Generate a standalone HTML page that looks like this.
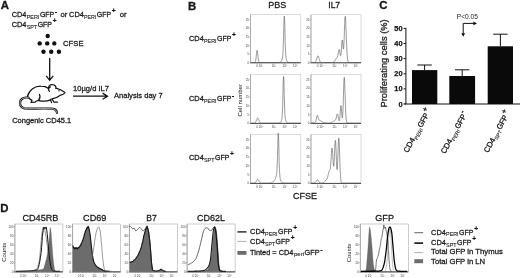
<!DOCTYPE html>
<html><head><meta charset="utf-8"><style>
html,body{margin:0;padding:0;background:#fff;}
svg{display:block;filter:grayscale(1)}
text{font-family:"Liberation Sans",sans-serif;fill:#1a1a1a}
.b{font-weight:bold;font-size:11.4px;stroke:#111;stroke-width:0.3px}
.t{font-size:7.7px}
.s{font-size:5px}
.h{font-size:9px}
.h2{font-size:9.1px}
.t,.h,.h2{stroke:#1a1a1a;stroke-width:0.28px}
.s{stroke:#1a1a1a;stroke-width:0.1px}
.p{font-weight:bold;stroke:#111;stroke-width:0.15px;fill:#111}
.tk{font-size:3px;fill:#444}
</style></head><body>
<svg width="520" height="278" viewBox="0 0 520 278">
<rect width="520" height="278" fill="#fff"/>

<text class="b" x="0.8" y="9.3">A</text>
<g ><text class="t" x="11.70" y="17.20" textLength="14.80" lengthAdjust="spacingAndGlyphs">CD4</text><text class="s" x="26.70" y="19.00" textLength="12.70" lengthAdjust="spacingAndGlyphs">PERI</text><text class="t" x="39.90" y="17.20" textLength="14.30" lengthAdjust="spacingAndGlyphs">GFP</text><text class="p" x="54.70" y="14.20" style="font-size:7.50px">-</text></g>
<text class="t" x="60.5" y="17.2">or</text>
<g ><text class="t" x="69.10" y="17.20" textLength="14.80" lengthAdjust="spacingAndGlyphs">CD4</text><text class="s" x="84.10" y="19.00" textLength="12.20" lengthAdjust="spacingAndGlyphs">PERI</text><text class="t" x="96.80" y="17.20" textLength="14.30" lengthAdjust="spacingAndGlyphs">GFP</text><text class="p" x="111.85" y="13.45" style="font-size:6.60px">+</text></g>
<text class="t" x="119.7" y="17.2">or</text>
<g ><text class="t" x="11.70" y="27.10" textLength="14.80" lengthAdjust="spacingAndGlyphs">CD4</text><text class="s" x="26.70" y="28.90" textLength="10.50" lengthAdjust="spacingAndGlyphs">SPT</text><text class="t" x="37.70" y="27.10" textLength="14.30" lengthAdjust="spacingAndGlyphs">GFP</text><text class="p" x="52.75" y="23.35" style="font-size:6.60px">+</text></g>
<g fill="#111">
<circle cx="47.7" cy="36.0" r="2.2"/>
<circle cx="39.7" cy="43.4" r="2.2"/>
<circle cx="47.2" cy="43.4" r="2.2"/>
<circle cx="54.3" cy="43.4" r="2.2"/>
<circle cx="43.5" cy="51.8" r="2.2"/>
<circle cx="51.2" cy="51.8" r="2.2"/>
<circle cx="58.9" cy="51.8" r="2.2"/>
</g>
<text class="t" x="63" y="46.2">CFSE</text>
<g stroke="#111" stroke-width="1.3" fill="none">
<path d="M49.7 58V80M46.2 75.8L49.7 80.3L53.2 75.8"/>
<path d="M73 96.2H107M102.6 93.1L107.5 96.2L102.6 99.3"/>
</g>
<text class="t" x="73" y="90.9" textLength="36" lengthAdjust="spacingAndGlyphs">10µg/d IL7</text>
<text class="t" x="114" y="98.3" textLength="48.7" lengthAdjust="spacingAndGlyphs">Analysis day 7</text>
<text class="t" x="12.2" y="122.6" textLength="59" lengthAdjust="spacingAndGlyphs">Congenic CD45.1</text>
<g transform="translate(0 0.9)">
<g stroke="#111" stroke-width="1.2" fill="none" stroke-linecap="round" stroke-linejoin="round">
<path d="M27.5 95.5C29 89 35 85 41 85.3C44 85.3 46.5 86 48.5 87.5"/>
<path d="M48.5 88C48 85 50 83.5 52.5 83.8C55 84 56 86 56 87.5"/>
<path d="M49.5 90.5C48 89 48.3 86.5 50.5 86"/>
<path d="M56 87.2C59.500 88 63 90 65 91.500C64.500 93 62 94 60 94.500C58 96 55 97.500 52 98"/>
<path d="M52 98L54 101.300H57.500"/>
<path d="M50.500 98.500L51.500 101.700"/>
<path d="M27.500 95.500C28.500 97.500 30 98.500 32 99.500L31 101.500L35 101.300C36 100 37.500 99.500 39 99.700C43 100.500 47 100.500 50.500 99"/>
<path d="M39.500 93.500C40.500 95.500 40 97.500 38.500 99.500"/>
</g>
<g stroke="#111" stroke-width="2.2" fill="none" stroke-linecap="round"><path d="M28.500 96.800C24 96 20 98 20 102C20 106 23 107.800 28 107.800C36 107.800 45 107.300 52 107.800C55 108 56.800 109.500 57 112"/></g>
<g stroke="#fff" stroke-width="0.6" fill="none" stroke-linecap="round"><path d="M28.500 96.800C24 96 20 98 20 102C20 106 23 107.800 28 107.800C36 107.800 45 107.300 52 107.800C55 108 56.800 109.500 57 112"/></g>
<circle cx="59" cy="89.800" r="0.700" fill="#111"/>
</g>
<text class="b" x="188.1" y="9.5">B</text>
<text class="h" x="268.3" y="7.7" textLength="18" lengthAdjust="spacingAndGlyphs">PBS</text>
<text class="h" x="328.3" y="7.7" textLength="11.8" lengthAdjust="spacingAndGlyphs">IL7</text>
<g ><text class="t" x="189.00" y="41.00" textLength="14.80" lengthAdjust="spacingAndGlyphs">CD4</text><text class="s" x="204.00" y="42.80" textLength="12.50" lengthAdjust="spacingAndGlyphs">PERI</text><text class="t" x="217.00" y="41.00" textLength="14.30" lengthAdjust="spacingAndGlyphs">GFP</text><text class="p" x="232.05" y="37.25" style="font-size:6.60px">+</text></g>
<g ><text class="t" x="189.00" y="100.80" textLength="14.80" lengthAdjust="spacingAndGlyphs">CD4</text><text class="s" x="204.00" y="102.60" textLength="12.50" lengthAdjust="spacingAndGlyphs">PERI</text><text class="t" x="217.00" y="100.80" textLength="14.30" lengthAdjust="spacingAndGlyphs">GFP</text><text class="p" x="231.80" y="97.80" style="font-size:7.50px">-</text></g>
<g ><text class="t" x="189.00" y="160.00" textLength="14.80" lengthAdjust="spacingAndGlyphs">CD4</text><text class="s" x="204.00" y="161.80" textLength="10.50" lengthAdjust="spacingAndGlyphs">SPT</text><text class="t" x="215.00" y="160.00" textLength="14.30" lengthAdjust="spacingAndGlyphs">GFP</text><text class="p" x="230.05" y="156.25" style="font-size:6.60px">+</text></g>
<text transform="translate(241.9 116.600) rotate(-90)" style="font-size:6.100px" textLength="32.500" lengthAdjust="spacingAndGlyphs">Cell number</text>
<text class="h" x="293" y="199.200" textLength="24" lengthAdjust="spacingAndGlyphs">CFSE</text>
<rect x="250.5" y="14.7" width="50.3" height="48.1" fill="none" stroke="#c4c4c4" stroke-width="0.600"/><path d="M250.0 62.8H300.8" stroke="#444" stroke-width="1"/><path d="M250.5 14.7V62.8" stroke="#999" stroke-width="0.700"/><path d="M250.5 19.7h-1.200M250.5 28.3h-1.200M250.5 36.9h-1.200M250.5 45.6h-1.200M250.5 54.2h-1.200M250.5 62.8h-1.200M257.0 62.8v1.200M260.8 62.8v1.200M273.8 62.8v1.200M284.8 62.8v1.200M295.3 62.8v1.200" stroke="#888" stroke-width="0.500"/>
<text class="tk" x="257.0" y="67.4" text-anchor="middle">0</text><text class="tk" x="260.8" y="67.4" text-anchor="middle">10²</text><text class="tk" x="273.8" y="67.4" text-anchor="middle">10³</text><text class="tk" x="284.8" y="67.4" text-anchor="middle">10⁴</text><text class="tk" x="295.3" y="67.4" text-anchor="middle">10⁵</text>
<text class="tk" x="249.0" y="20.7" text-anchor="end">25</text><text class="tk" x="249.0" y="29.3" text-anchor="end">20</text><text class="tk" x="249.0" y="37.9" text-anchor="end">15</text><text class="tk" x="249.0" y="46.6" text-anchor="end">10</text><text class="tk" x="249.0" y="55.2" text-anchor="end">5</text><text class="tk" x="249.0" y="63.8" text-anchor="end">0</text>
<rect x="311.0" y="14.7" width="50.0" height="48.1" fill="none" stroke="#c4c4c4" stroke-width="0.600"/><path d="M310.5 62.8H361.0" stroke="#444" stroke-width="1"/><path d="M311.0 14.7V62.8" stroke="#999" stroke-width="0.700"/><path d="M311.0 19.7h-1.200M311.0 28.3h-1.200M311.0 36.9h-1.200M311.0 45.6h-1.200M311.0 54.2h-1.200M311.0 62.8h-1.200M317.5 62.8v1.200M321.3 62.8v1.200M334.3 62.8v1.200M345.3 62.8v1.200M355.8 62.8v1.200" stroke="#888" stroke-width="0.500"/>
<text class="tk" x="317.5" y="67.4" text-anchor="middle">0</text><text class="tk" x="321.3" y="67.4" text-anchor="middle">10²</text><text class="tk" x="334.3" y="67.4" text-anchor="middle">10³</text><text class="tk" x="345.3" y="67.4" text-anchor="middle">10⁴</text><text class="tk" x="355.8" y="67.4" text-anchor="middle">10⁵</text>
<text class="tk" x="309.5" y="20.7" text-anchor="end">25</text><text class="tk" x="309.5" y="29.3" text-anchor="end">20</text><text class="tk" x="309.5" y="37.9" text-anchor="end">15</text><text class="tk" x="309.5" y="46.6" text-anchor="end">10</text><text class="tk" x="309.5" y="55.2" text-anchor="end">5</text><text class="tk" x="309.5" y="63.8" text-anchor="end">0</text>
<rect x="250.5" y="74.6" width="50.3" height="48.8" fill="none" stroke="#c4c4c4" stroke-width="0.600"/><path d="M250.0 123.4H300.8" stroke="#444" stroke-width="1"/><path d="M250.5 74.6V123.4" stroke="#999" stroke-width="0.700"/><path d="M250.5 79.6h-1.200M250.5 88.4h-1.200M250.5 97.1h-1.200M250.5 105.9h-1.200M250.5 114.6h-1.200M250.5 123.4h-1.200M257.0 123.4v1.200M260.8 123.4v1.200M273.8 123.4v1.200M284.8 123.4v1.200M295.3 123.4v1.200" stroke="#888" stroke-width="0.500"/>
<text class="tk" x="257.0" y="128.0" text-anchor="middle">0</text><text class="tk" x="260.8" y="128.0" text-anchor="middle">10²</text><text class="tk" x="273.8" y="128.0" text-anchor="middle">10³</text><text class="tk" x="284.8" y="128.0" text-anchor="middle">10⁴</text><text class="tk" x="295.3" y="128.0" text-anchor="middle">10⁵</text>
<text class="tk" x="249.0" y="80.6" text-anchor="end">25</text><text class="tk" x="249.0" y="89.4" text-anchor="end">20</text><text class="tk" x="249.0" y="98.1" text-anchor="end">15</text><text class="tk" x="249.0" y="106.9" text-anchor="end">10</text><text class="tk" x="249.0" y="115.6" text-anchor="end">5</text><text class="tk" x="249.0" y="124.4" text-anchor="end">0</text>
<rect x="311.0" y="74.6" width="50.0" height="48.8" fill="none" stroke="#c4c4c4" stroke-width="0.600"/><path d="M310.5 123.4H361.0" stroke="#444" stroke-width="1"/><path d="M311.0 74.6V123.4" stroke="#999" stroke-width="0.700"/><path d="M311.0 79.6h-1.200M311.0 88.4h-1.200M311.0 97.1h-1.200M311.0 105.9h-1.200M311.0 114.6h-1.200M311.0 123.4h-1.200M317.5 123.4v1.200M321.3 123.4v1.200M334.3 123.4v1.200M345.3 123.4v1.200M355.8 123.4v1.200" stroke="#888" stroke-width="0.500"/>
<text class="tk" x="317.5" y="128.0" text-anchor="middle">0</text><text class="tk" x="321.3" y="128.0" text-anchor="middle">10²</text><text class="tk" x="334.3" y="128.0" text-anchor="middle">10³</text><text class="tk" x="345.3" y="128.0" text-anchor="middle">10⁴</text><text class="tk" x="355.8" y="128.0" text-anchor="middle">10⁵</text>
<text class="tk" x="309.5" y="80.6" text-anchor="end">25</text><text class="tk" x="309.5" y="89.4" text-anchor="end">20</text><text class="tk" x="309.5" y="98.1" text-anchor="end">15</text><text class="tk" x="309.5" y="106.9" text-anchor="end">10</text><text class="tk" x="309.5" y="115.6" text-anchor="end">5</text><text class="tk" x="309.5" y="124.4" text-anchor="end">0</text>
<rect x="250.5" y="134.6" width="50.3" height="48.8" fill="none" stroke="#c4c4c4" stroke-width="0.600"/><path d="M250.0 183.4H300.8" stroke="#444" stroke-width="1"/><path d="M250.5 134.6V183.4" stroke="#999" stroke-width="0.700"/><path d="M250.5 139.6h-1.200M250.5 148.4h-1.200M250.5 157.1h-1.200M250.5 165.9h-1.200M250.5 174.6h-1.200M250.5 183.4h-1.200M257.0 183.4v1.200M260.8 183.4v1.200M273.8 183.4v1.200M284.8 183.4v1.200M295.3 183.4v1.200" stroke="#888" stroke-width="0.500"/>
<text class="tk" x="257.0" y="188.0" text-anchor="middle">0</text><text class="tk" x="260.8" y="188.0" text-anchor="middle">10²</text><text class="tk" x="273.8" y="188.0" text-anchor="middle">10³</text><text class="tk" x="284.8" y="188.0" text-anchor="middle">10⁴</text><text class="tk" x="295.3" y="188.0" text-anchor="middle">10⁵</text>
<text class="tk" x="249.0" y="140.6" text-anchor="end">25</text><text class="tk" x="249.0" y="149.4" text-anchor="end">20</text><text class="tk" x="249.0" y="158.1" text-anchor="end">15</text><text class="tk" x="249.0" y="166.9" text-anchor="end">10</text><text class="tk" x="249.0" y="175.6" text-anchor="end">5</text><text class="tk" x="249.0" y="184.4" text-anchor="end">0</text>
<rect x="311.0" y="134.6" width="50.0" height="48.8" fill="none" stroke="#c4c4c4" stroke-width="0.600"/><path d="M310.5 183.4H361.0" stroke="#444" stroke-width="1"/><path d="M311.0 134.6V183.4" stroke="#999" stroke-width="0.700"/><path d="M311.0 139.6h-1.200M311.0 148.4h-1.200M311.0 157.1h-1.200M311.0 165.9h-1.200M311.0 174.6h-1.200M311.0 183.4h-1.200M317.5 183.4v1.200M321.3 183.4v1.200M334.3 183.4v1.200M345.3 183.4v1.200M355.8 183.4v1.200" stroke="#888" stroke-width="0.500"/>
<text class="tk" x="317.5" y="188.0" text-anchor="middle">0</text><text class="tk" x="321.3" y="188.0" text-anchor="middle">10²</text><text class="tk" x="334.3" y="188.0" text-anchor="middle">10³</text><text class="tk" x="345.3" y="188.0" text-anchor="middle">10⁴</text><text class="tk" x="355.8" y="188.0" text-anchor="middle">10⁵</text>
<text class="tk" x="309.5" y="140.6" text-anchor="end">25</text><text class="tk" x="309.5" y="149.4" text-anchor="end">20</text><text class="tk" x="309.5" y="158.1" text-anchor="end">15</text><text class="tk" x="309.5" y="166.9" text-anchor="end">10</text><text class="tk" x="309.5" y="175.6" text-anchor="end">5</text><text class="tk" x="309.5" y="184.4" text-anchor="end">0</text>
<path d="M251.0 62.5L251.2 62.5L251.5 62.5L251.8 62.5L252.0 62.5L252.2 62.5L252.5 62.5L252.8 62.5L253.0 62.5L253.2 62.5L253.5 62.5L253.8 62.5L254.0 62.5L254.2 62.5L254.5 62.5L254.8 62.4L255.0 62.3L255.2 61.9L255.5 61.2L255.8 60.1L256.0 58.3L256.2 56.1L256.5 53.6L256.8 51.6L257.0 50.4L257.2 50.5L257.5 51.9L257.8 54.1L258.0 56.6L258.2 58.7L258.5 60.4L258.8 61.4L259.0 62.0L259.2 62.3L259.5 62.4L259.8 62.5L260.0 62.5L260.2 62.5L260.5 62.5L260.8 62.5L261.0 62.5L261.2 62.5L261.5 62.5L261.8 62.5L262.0 62.5L262.2 62.5L262.5 62.5L262.8 62.5L263.0 62.5L263.2 62.5L263.5 62.5L263.8 62.5L264.0 62.5L264.2 62.5L264.5 62.5L264.8 62.5L265.0 62.5L265.2 62.5L265.5 62.5L265.8 62.5L266.0 62.5L266.2 62.5L266.5 62.5L266.8 62.5L267.0 62.5L267.2 62.5L267.5 62.5L267.8 62.5L268.0 62.5L268.2 62.5L268.5 62.5L268.8 62.5L269.0 62.5L269.2 62.5L269.5 62.5L269.8 62.5L270.0 62.5L270.2 62.5L270.5 62.5L270.8 62.5L271.0 62.5L271.2 62.5L271.5 62.5L271.8 62.5L272.0 62.5L272.2 62.5L272.5 62.5L272.8 62.5L273.0 62.5L273.2 62.5L273.5 62.5L273.8 62.5L274.0 62.5L274.2 62.5L274.5 62.5L274.8 62.5L275.0 62.5L275.2 62.5L275.5 62.5L275.8 62.5L276.0 62.5L276.2 62.5L276.5 62.5L276.8 62.5L277.0 62.5L277.2 62.5L277.5 62.5L277.8 62.5L278.0 62.5L278.2 62.5L278.5 62.5L278.8 62.5L279.0 62.5L279.2 62.5L279.5 62.4L279.8 62.4L280.0 62.4L280.2 62.3L280.5 62.2L280.8 62.0L281.0 61.7L281.2 61.4L281.5 61.0L281.8 60.5L282.0 59.8L282.2 59.0L282.5 57.8L282.8 55.8L283.0 52.4L283.2 46.8L283.5 38.6L283.8 28.9L284.0 20.4L284.2 16.1L284.5 18.0L284.8 25.2L285.0 34.8L285.2 43.8L285.5 50.5L285.8 54.7L286.0 57.1L286.2 58.6L286.5 59.5L286.8 60.2L287.0 60.8L287.2 61.3L287.5 61.6L287.8 61.9L288.0 62.1L288.2 62.2L288.5 62.3L288.8 62.4L289.0 62.4L289.2 62.5L289.5 62.5L289.8 62.5L290.0 62.5L290.2 62.5L290.5 62.5L290.8 62.5L291.0 62.5L291.2 62.5L291.5 62.5L291.8 62.5L292.0 62.5L292.2 62.5L292.5 62.5L292.8 62.5L293.0 62.5L293.2 62.5L293.5 62.5L293.8 62.5L294.0 62.5L294.2 62.5L294.5 62.5L294.8 62.5L295.0 62.5L295.2 62.5L295.5 62.5L295.8 62.5L296.0 62.5L296.2 62.5L296.5 62.5L296.8 62.5L297.0 62.5L297.2 62.5L297.5 62.5L297.8 62.5L298.0 62.5L298.2 62.5L298.5 62.5L298.8 62.5L299.0 62.5L299.2 62.5L299.5 62.5L299.8 62.5L300.0 62.5L300.2 62.5" fill="none" stroke="#555" stroke-width="0.6" stroke-linejoin="round"/>
<path d="M311.7 62.5L311.9 62.5L312.2 62.5L312.4 62.5L312.7 62.5L312.9 62.5L313.2 62.5L313.4 62.5L313.7 62.5L313.9 62.5L314.2 62.5L314.4 62.5L314.7 62.4L314.9 62.4L315.2 62.2L315.4 62.0L315.7 61.7L315.9 61.3L316.2 60.7L316.4 60.0L316.7 59.2L316.9 58.3L317.2 57.4L317.4 56.6L317.7 56.0L317.9 55.8L318.2 55.9L318.4 56.3L318.7 57.0L318.9 57.9L319.2 58.8L319.4 59.7L319.7 60.5L319.9 61.1L320.2 61.6L320.4 61.9L320.7 62.2L320.9 62.3L321.2 62.4L321.4 62.5L321.7 62.5L321.9 62.5L322.2 62.5L322.4 62.5L322.7 62.5L322.9 62.5L323.2 62.5L323.4 62.5L323.7 62.5L323.9 62.5L324.2 62.5L324.4 62.5L324.7 62.5L324.9 62.5L325.2 62.5L325.4 62.5L325.7 62.5L325.9 62.5L326.2 62.5L326.4 62.5L326.7 62.5L326.9 62.5L327.2 62.5L327.4 62.5L327.7 62.5L327.9 62.5L328.2 62.5L328.4 62.5L328.7 62.5L328.9 62.5L329.2 62.5L329.4 62.5L329.7 62.5L329.9 62.5L330.2 62.5L330.4 62.5L330.7 62.5L330.9 62.5L331.2 62.5L331.4 62.5L331.7 62.5L331.9 62.5L332.2 62.5L332.4 62.5L332.7 62.4L332.9 62.4L333.2 62.3L333.4 62.2L333.7 62.1L333.9 61.9L334.2 61.7L334.4 61.4L334.7 61.1L334.9 60.7L335.2 60.3L335.4 59.9L335.7 59.4L335.9 59.0L336.2 58.6L336.4 58.2L336.7 57.9L336.9 57.6L337.2 57.3L337.4 56.8L337.7 56.1L337.9 55.1L338.2 53.8L338.4 52.3L338.7 50.9L338.9 49.9L339.2 49.5L339.4 49.9L339.7 51.1L339.9 52.7L340.2 54.3L340.4 55.5L340.7 55.8L340.9 54.8L341.2 52.4L341.4 49.0L341.7 45.1L341.9 41.9L342.2 40.0L342.4 40.1L342.7 42.0L342.9 44.9L343.2 47.7L343.4 49.0L343.7 47.9L343.9 44.2L344.2 38.1L344.4 30.7L344.7 23.5L344.9 18.3L345.2 16.4L345.4 17.7L345.7 21.3L345.9 26.8L346.2 33.2L346.4 39.8L346.7 45.9L346.9 51.0L347.2 55.0L347.4 57.9L347.7 59.8L347.9 61.0L348.2 61.7L348.4 62.1L348.7 62.3L348.9 62.4L349.2 62.5L349.4 62.5L349.7 62.5L349.9 62.5L350.2 62.5L350.4 62.5L350.7 62.5L350.9 62.5L351.2 62.5L351.4 62.5L351.7 62.5L351.9 62.5L352.2 62.5L352.4 62.5L352.7 62.5L352.9 62.5L353.2 62.5L353.4 62.5L353.7 62.5L353.9 62.5L354.2 62.5L354.4 62.5L354.7 62.5L354.9 62.5L355.2 62.5L355.4 62.5L355.7 62.5L355.9 62.5L356.2 62.5L356.4 62.5L356.7 62.5L356.9 62.5L357.2 62.5L357.4 62.5L357.7 62.5L357.9 62.5L358.2 62.5L358.4 62.5L358.7 62.5L358.9 62.5L359.2 62.5L359.4 62.5L359.7 62.5L359.9 62.5L360.2 62.5L360.4 62.5L360.7 62.5L360.9 62.5" fill="none" stroke="#555" stroke-width="0.6" stroke-linejoin="round"/>
<path d="M251.0 123.1L251.2 123.1L251.5 123.1L251.8 123.1L252.0 123.1L252.2 123.1L252.5 123.1L252.8 123.1L253.0 123.1L253.2 123.1L253.5 123.1L253.8 123.1L254.0 123.1L254.2 123.1L254.5 123.0L254.8 123.0L255.0 122.8L255.2 122.7L255.5 122.4L255.8 122.0L256.0 121.5L256.2 120.9L256.5 120.2L256.8 119.5L257.0 118.9L257.2 118.3L257.5 118.0L257.8 117.9L258.0 118.1L258.2 118.5L258.5 119.1L258.8 119.8L259.0 120.5L259.2 121.2L259.5 121.7L259.8 122.2L260.0 122.5L260.2 122.7L260.5 122.9L260.8 123.0L261.0 123.0L261.2 123.1L261.5 123.1L261.8 123.1L262.0 123.1L262.2 123.1L262.5 123.1L262.8 123.1L263.0 123.1L263.2 123.1L263.5 123.1L263.8 123.1L264.0 123.1L264.2 123.1L264.5 123.1L264.8 123.1L265.0 123.1L265.2 123.1L265.5 123.1L265.8 123.1L266.0 123.1L266.2 123.1L266.5 123.1L266.8 123.1L267.0 123.1L267.2 123.1L267.5 123.1L267.8 123.1L268.0 123.1L268.2 123.1L268.5 123.1L268.8 123.1L269.0 123.1L269.2 123.1L269.5 123.1L269.8 123.1L270.0 123.1L270.2 123.1L270.5 123.1L270.8 123.1L271.0 123.1L271.2 123.1L271.5 123.1L271.8 123.1L272.0 123.1L272.2 123.1L272.5 123.1L272.8 123.1L273.0 123.1L273.2 123.1L273.5 123.1L273.8 123.1L274.0 123.1L274.2 123.1L274.5 123.1L274.8 123.1L275.0 123.1L275.2 123.1L275.5 123.1L275.8 123.1L276.0 123.1L276.2 123.1L276.5 123.1L276.8 123.1L277.0 123.1L277.2 123.1L277.5 123.1L277.8 123.1L278.0 123.1L278.2 123.1L278.5 123.1L278.8 123.1L279.0 123.1L279.2 123.0L279.5 123.0L279.8 122.9L280.0 122.8L280.2 122.6L280.5 122.4L280.8 122.1L281.0 121.7L281.2 121.1L281.5 120.4L281.8 119.4L282.0 117.8L282.2 114.9L282.5 109.9L282.8 102.0L283.0 92.0L283.2 82.3L283.5 76.5L283.8 77.1L284.0 84.0L284.2 94.1L284.5 103.8L284.8 111.1L285.0 115.6L285.2 118.2L285.5 119.6L285.8 120.5L286.0 121.2L286.2 121.7L286.5 122.2L286.8 122.5L287.0 122.7L287.2 122.8L287.5 122.9L287.8 123.0L288.0 123.0L288.2 123.1L288.5 123.1L288.8 123.1L289.0 123.1L289.2 123.1L289.5 123.1L289.8 123.1L290.0 123.1L290.2 123.1L290.5 123.1L290.8 123.1L291.0 123.1L291.2 123.1L291.5 123.1L291.8 123.1L292.0 123.1L292.2 123.1L292.5 123.1L292.8 123.1L293.0 123.1L293.2 123.1L293.5 123.1L293.8 123.1L294.0 123.1L294.2 123.1L294.5 123.1L294.8 123.1L295.0 123.1L295.2 123.1L295.5 123.1L295.8 123.1L296.0 123.1L296.2 123.1L296.5 123.1L296.8 123.1L297.0 123.1L297.2 123.1L297.5 123.1L297.8 123.1L298.0 123.1L298.2 123.1L298.5 123.1L298.8 123.1L299.0 123.1L299.2 123.1L299.5 123.1L299.8 123.1L300.0 123.1L300.2 123.1" fill="none" stroke="#555" stroke-width="0.6" stroke-linejoin="round"/>
<path d="M311.7 123.1L311.9 123.1L312.2 123.1L312.4 123.1L312.7 123.0L312.9 123.0L313.2 123.0L313.4 123.0L313.7 122.9L313.9 122.9L314.2 122.8L314.4 122.8L314.7 122.7L314.9 122.5L315.2 122.3L315.4 122.0L315.7 121.5L315.9 120.7L316.2 119.7L316.4 118.5L316.7 117.2L316.9 116.1L317.2 115.4L317.4 115.3L317.7 115.8L317.9 116.6L318.2 117.6L318.4 118.6L318.7 119.3L318.9 119.8L319.2 120.2L319.4 120.3L319.7 120.4L319.9 120.5L320.2 120.6L320.4 120.7L320.7 120.8L320.9 120.9L321.2 121.0L321.4 121.2L321.7 121.3L321.9 121.5L322.2 121.6L322.4 121.8L322.7 122.0L322.9 122.1L323.2 122.2L323.4 122.4L323.7 122.5L323.9 122.6L324.2 122.7L324.4 122.7L324.7 122.8L324.9 122.9L325.2 122.9L325.4 122.9L325.7 123.0L325.9 123.0L326.2 123.0L326.4 123.0L326.7 123.1L326.9 123.1L327.2 123.1L327.4 123.1L327.7 123.1L327.9 123.1L328.2 123.1L328.4 123.1L328.7 123.1L328.9 123.1L329.2 123.1L329.4 123.0L329.7 123.0L329.9 123.0L330.2 123.0L330.4 122.9L330.7 122.8L330.9 122.8L331.2 122.7L331.4 122.6L331.7 122.4L331.9 122.3L332.2 122.1L332.4 121.9L332.7 121.8L332.9 121.6L333.2 121.4L333.4 121.2L333.7 121.0L333.9 120.8L334.2 120.7L334.4 120.6L334.7 120.5L334.9 120.4L335.2 120.2L335.4 120.0L335.7 119.6L335.9 118.9L336.2 118.1L336.4 117.0L336.7 115.8L336.9 114.8L337.2 114.0L337.4 113.8L337.7 114.2L337.9 115.1L338.2 116.4L338.4 117.8L338.7 119.2L338.9 120.3L339.2 120.8L339.4 120.6L339.7 119.4L339.9 117.1L340.2 113.8L340.4 110.1L340.7 107.0L340.9 105.5L341.2 106.2L341.4 108.7L341.7 112.2L341.9 115.5L342.2 117.6L342.4 117.9L342.7 115.9L342.9 111.6L343.2 105.1L343.4 96.8L343.7 88.3L343.9 81.2L344.2 77.4L344.4 77.7L344.7 81.8L344.9 88.7L345.2 96.8L345.4 104.6L345.7 111.2L345.9 116.1L346.2 119.3L346.4 121.2L346.7 122.2L346.9 122.7L347.2 123.0L347.4 123.1L347.7 123.1L347.9 123.1L348.2 123.1L348.4 123.1L348.7 123.1L348.9 123.1L349.2 123.1L349.4 123.1L349.7 123.1L349.9 123.1L350.2 123.1L350.4 123.1L350.7 123.1L350.9 123.1L351.2 123.1L351.4 123.1L351.7 123.1L351.9 123.1L352.2 123.1L352.4 123.1L352.7 123.1L352.9 123.1L353.2 123.1L353.4 123.1L353.7 123.1L353.9 123.1L354.2 123.1L354.4 123.1L354.7 123.1L354.9 123.1L355.2 123.1L355.4 123.1L355.7 123.1L355.9 123.1L356.2 123.1L356.4 123.1L356.7 123.1L356.9 123.1L357.2 123.1L357.4 123.1L357.7 123.1L357.9 123.1L358.2 123.1L358.4 123.1L358.7 123.1L358.9 123.1L359.2 123.1L359.4 123.1L359.7 123.1L359.9 123.1L360.2 123.1L360.4 123.1L360.7 123.1L360.9 123.1" fill="none" stroke="#555" stroke-width="0.6" stroke-linejoin="round"/>
<path d="M251.0 183.1L251.2 183.1L251.5 183.1L251.8 183.1L252.0 183.1L252.2 183.1L252.5 183.1L252.8 183.1L253.0 183.1L253.2 183.1L253.5 183.1L253.8 183.1L254.0 183.1L254.2 183.0L254.5 183.0L254.8 182.9L255.0 182.8L255.2 182.6L255.5 182.4L255.8 182.1L256.0 181.7L256.2 181.2L256.5 180.7L256.8 180.2L257.0 179.8L257.2 179.5L257.5 179.3L257.8 179.2L258.0 179.3L258.2 179.6L258.5 180.0L258.8 180.4L259.0 180.9L259.2 181.4L259.5 181.8L259.8 182.2L260.0 182.5L260.2 182.7L260.5 182.8L260.8 182.9L261.0 183.0L261.2 183.1L261.5 183.1L261.8 183.1L262.0 183.1L262.2 183.1L262.5 183.1L262.8 183.1L263.0 183.1L263.2 183.1L263.5 183.1L263.8 183.1L264.0 183.1L264.2 183.1L264.5 183.1L264.8 183.1L265.0 183.1L265.2 183.1L265.5 183.1L265.8 183.1L266.0 183.1L266.2 183.1L266.5 183.1L266.8 183.1L267.0 183.1L267.2 183.1L267.5 183.1L267.8 183.1L268.0 183.1L268.2 183.1L268.5 183.1L268.8 183.1L269.0 183.1L269.2 183.1L269.5 183.0L269.8 183.0L270.0 183.0L270.2 183.0L270.5 182.9L270.8 182.9L271.0 182.8L271.2 182.8L271.5 182.7L271.8 182.6L272.0 182.5L272.2 182.4L272.5 182.2L272.8 182.1L273.0 181.9L273.2 181.7L273.5 181.5L273.8 181.3L274.0 181.0L274.2 180.7L274.5 180.4L274.8 180.0L275.0 179.5L275.2 178.9L275.5 178.3L275.8 177.6L276.0 176.8L276.2 175.9L276.5 174.7L276.8 172.9L277.0 169.7L277.2 164.4L277.5 156.2L277.8 146.3L278.0 137.4L278.2 133.2L278.5 135.6L278.8 143.7L279.0 154.2L279.2 163.8L279.5 170.7L279.8 175.0L280.0 177.4L280.2 178.8L280.5 179.8L280.8 180.6L281.0 181.2L281.2 181.6L281.5 182.0L281.8 182.3L282.0 182.5L282.2 182.7L282.5 182.8L282.8 182.9L283.0 183.0L283.2 183.0L283.5 183.0L283.8 183.0L284.0 183.1L284.2 183.1L284.5 183.1L284.8 183.1L285.0 183.1L285.2 183.1L285.5 183.1L285.8 183.1L286.0 183.1L286.2 183.1L286.5 183.1L286.8 183.1L287.0 183.1L287.2 183.1L287.5 183.1L287.8 183.1L288.0 183.1L288.2 183.1L288.5 183.1L288.8 183.1L289.0 183.1L289.2 183.1L289.5 183.1L289.8 183.1L290.0 183.1L290.2 183.1L290.5 183.1L290.8 183.1L291.0 183.1L291.2 183.1L291.5 183.1L291.8 183.1L292.0 183.1L292.2 183.1L292.5 183.1L292.8 183.1L293.0 183.1L293.2 183.1L293.5 183.1L293.8 183.1L294.0 183.1L294.2 183.1L294.5 183.1L294.8 183.1L295.0 183.1L295.2 183.1L295.5 183.1L295.8 183.1L296.0 183.1L296.2 183.1L296.5 183.1L296.8 183.1L297.0 183.1L297.2 183.1L297.5 183.1L297.8 183.1L298.0 183.1L298.2 183.1L298.5 183.1L298.8 183.1L299.0 183.1L299.2 183.1L299.5 183.1L299.8 183.1L300.0 183.1L300.2 183.1" fill="none" stroke="#555" stroke-width="0.6" stroke-linejoin="round"/>
<path d="M311.7 183.1L311.9 183.1L312.2 183.1L312.4 183.1L312.7 183.1L312.9 183.1L313.2 183.1L313.4 183.1L313.7 183.1L313.9 183.0L314.2 183.0L314.4 182.9L314.7 182.8L314.9 182.7L315.2 182.5L315.4 182.2L315.7 181.9L315.9 181.6L316.2 181.2L316.4 180.8L316.7 180.4L316.9 180.1L317.2 179.9L317.4 179.9L317.7 180.0L317.9 180.2L318.2 180.5L318.4 180.9L318.7 181.3L318.9 181.7L319.2 182.1L319.4 182.4L319.7 182.6L319.9 182.8L320.2 182.9L320.4 183.0L320.7 183.0L320.9 183.1L321.2 183.1L321.4 183.1L321.7 183.1L321.9 183.1L322.2 183.0L322.4 183.0L322.7 183.0L322.9 182.9L323.2 182.8L323.4 182.7L323.7 182.6L323.9 182.4L324.2 182.1L324.4 181.9L324.7 181.6L324.9 181.3L325.2 181.0L325.4 180.6L325.7 180.4L325.9 180.1L326.2 179.9L326.4 179.6L326.7 179.3L326.9 179.0L327.2 178.5L327.4 177.9L327.7 177.0L327.9 175.9L328.2 174.7L328.4 173.5L328.7 172.4L328.9 171.5L329.2 170.9L329.4 170.6L329.7 170.4L329.9 170.1L330.2 169.3L330.4 167.7L330.7 165.1L330.9 161.6L331.2 157.5L331.4 153.4L331.7 150.1L331.9 148.2L332.2 148.3L332.4 150.2L332.7 153.6L332.9 157.9L333.2 162.0L333.4 165.1L333.7 166.3L333.9 165.2L334.2 161.8L334.4 156.5L334.7 150.4L334.9 144.9L335.2 141.2L335.4 140.4L335.7 142.7L335.9 147.6L336.2 154.0L336.4 160.5L336.7 165.9L336.9 169.2L337.2 169.6L337.4 167.1L337.7 161.9L337.9 154.9L338.2 147.5L338.4 141.3L338.7 138.1L338.9 138.4L339.2 142.1L339.4 148.2L339.7 155.6L339.9 163.1L340.2 169.6L340.4 174.7L340.7 178.2L340.9 180.5L341.2 181.8L341.4 182.5L341.7 182.8L341.9 183.0L342.2 183.1L342.4 183.1L342.7 183.1L342.9 183.1L343.2 183.1L343.4 183.1L343.7 183.1L343.9 183.1L344.2 183.1L344.4 183.1L344.7 183.1L344.9 183.1L345.2 183.1L345.4 183.1L345.7 183.1L345.9 183.1L346.2 183.1L346.4 183.1L346.7 183.1L346.9 183.1L347.2 183.1L347.4 183.1L347.7 183.1L347.9 183.1L348.2 183.1L348.4 183.1L348.7 183.1L348.9 183.1L349.2 183.1L349.4 183.1L349.7 183.1L349.9 183.1L350.2 183.1L350.4 183.1L350.7 183.1L350.9 183.1L351.2 183.1L351.4 183.1L351.7 183.1L351.9 183.1L352.2 183.1L352.4 183.1L352.7 183.1L352.9 183.1L353.2 183.1L353.4 183.1L353.7 183.1L353.9 183.1L354.2 183.1L354.4 183.1L354.7 183.1L354.9 183.1L355.2 183.1L355.4 183.1L355.7 183.1L355.9 183.1L356.2 183.1L356.4 183.1L356.7 183.1L356.9 183.1L357.2 183.1L357.4 183.1L357.7 183.1L357.9 183.1L358.2 183.1L358.4 183.1L358.7 183.1L358.9 183.1L359.2 183.1L359.4 183.1L359.7 183.1L359.9 183.1L360.2 183.1L360.4 183.1L360.7 183.1L360.9 183.1" fill="none" stroke="#555" stroke-width="0.6" stroke-linejoin="round"/>
<text class="b" x="379.3" y="9.4">C</text>
<text class="t" transform="translate(386.6 107.6) rotate(-90)" style="font-size:9.5px" textLength="88.3" lengthAdjust="spacingAndGlyphs">Proliferating cells (%)</text>
<g font-weight="bold" style="font-size:7px">
<text x="402.600" y="106.5" text-anchor="end" style="font-size:7.4px;font-weight:bold;stroke:#111;stroke-width:0.25px">0</text>
<text x="402.600" y="91.4" text-anchor="end" style="font-size:7.4px;font-weight:bold;stroke:#111;stroke-width:0.25px">10</text>
<text x="402.600" y="76.3" text-anchor="end" style="font-size:7.4px;font-weight:bold;stroke:#111;stroke-width:0.25px">20</text>
<text x="402.600" y="61.1" text-anchor="end" style="font-size:7.4px;font-weight:bold;stroke:#111;stroke-width:0.25px">30</text>
<text x="402.600" y="46.0" text-anchor="end" style="font-size:7.4px;font-weight:bold;stroke:#111;stroke-width:0.25px">40</text>
<text x="402.600" y="30.9" text-anchor="end" style="font-size:7.4px;font-weight:bold;stroke:#111;stroke-width:0.25px">50</text>
</g>
<path d="M405.9 27.9V104.0M405.9 104.0h-2.300M405.9 88.9h-2.300M405.9 73.8h-2.300M405.9 58.6h-2.300M405.9 43.5h-2.300M405.9 28.4h-2.300" stroke="#111" stroke-width="1" fill="none"/>
<path d="M404.500 104.0H520" stroke="#111" stroke-width="1.200"/>
<rect x="412.0" y="70.1" width="25.3" height="33.9" fill="#0a0a0a"/>
<path d="M424.6 70.1V65.0M417.4 65.0H431.8" stroke="#111" stroke-width="1" fill="none"/>
<rect x="449.3" y="76.0" width="25.8" height="28.0" fill="#0a0a0a"/>
<path d="M462.2 76.0V69.8M455.0 69.8H469.4" stroke="#111" stroke-width="1" fill="none"/>
<rect x="487.7" y="46.3" width="25.3" height="57.7" fill="#0a0a0a"/>
<path d="M500.4 46.3V34.2M493.2 34.2H507.6" stroke="#111" stroke-width="1" fill="none"/>
<text x="456.800" y="19.400" style="font-size:6.500px" textLength="21" lengthAdjust="spacingAndGlyphs">P&lt;0.05</text>
<path d="M463.200 34V23.400H474" stroke="#111" stroke-width="1" fill="none"/>
<path d="M461.300 33.200L463.200 36.700L465.100 33.200ZM473.400 21.500L477 23.400L473.400 25.300Z" fill="#111"/>
<g transform="translate(431.5 110.5) rotate(-61)"><g ><text class="t" x="-48.76" y="0.00" textLength="15.69" lengthAdjust="spacingAndGlyphs">CD4</text><text class="s" x="-32.86" y="1.91" textLength="12.19" lengthAdjust="spacingAndGlyphs">PERI</text><text class="t" x="-20.14" y="0.00" textLength="15.16" lengthAdjust="spacingAndGlyphs">GFP</text><text class="p" x="-4.19" y="-3.98" style="font-size:7.00px">+</text></g></g>
<g transform="translate(468.0 113.0) rotate(-61)"><g ><text class="t" x="-47.28" y="0.00" textLength="15.69" lengthAdjust="spacingAndGlyphs">CD4</text><text class="s" x="-31.38" y="1.91" textLength="12.19" lengthAdjust="spacingAndGlyphs">PERI</text><text class="t" x="-18.66" y="0.00" textLength="15.16" lengthAdjust="spacingAndGlyphs">GFP</text><text class="p" x="-2.97" y="-3.18" style="font-size:7.95px">-</text></g></g>
<g transform="translate(510.5 112.5) rotate(-61)"><g ><text class="t" x="-46.64" y="0.00" textLength="15.69" lengthAdjust="spacingAndGlyphs">CD4</text><text class="s" x="-30.74" y="1.91" textLength="10.07" lengthAdjust="spacingAndGlyphs">SPT</text><text class="t" x="-20.14" y="0.00" textLength="15.16" lengthAdjust="spacingAndGlyphs">GFP</text><text class="p" x="-4.19" y="-3.98" style="font-size:7.00px">+</text></g></g>
<text class="b" x="0.2" y="212.4">D</text>
<text class="h2" x="22.4" y="220.6" textLength="36" lengthAdjust="spacingAndGlyphs">CD45RB</text>
<text class="h2" x="83.1" y="220.6" textLength="23.3" lengthAdjust="spacingAndGlyphs">CD69</text>
<text class="h2" x="146.2" y="220.6" textLength="10.5" lengthAdjust="spacingAndGlyphs">B7</text>
<text class="h2" x="196.9" y="220.6" textLength="28" lengthAdjust="spacingAndGlyphs">CD62L</text>
<text class="h2" x="375.3" y="220.6" textLength="18.7" lengthAdjust="spacingAndGlyphs">GFP</text>
<text transform="translate(5.6 261.7) rotate(-90)" style="font-size:6px" textLength="18.8" lengthAdjust="spacingAndGlyphs">Counts</text>
<text transform="translate(350.8 262.2) rotate(-90)" style="font-size:6px" textLength="18.4" lengthAdjust="spacingAndGlyphs">Counts</text>
<rect x="14.9" y="224.0" width="48.0" height="47.9" fill="none" stroke="#aaa" stroke-width="0.600"/><path d="M14.4 271.9H62.9" stroke="#333" stroke-width="1"/><path d="M14.9 224.0V271.9" stroke="#999" stroke-width="0.700"/><path d="M14.9 226.5h-1.200M14.9 235.6h-1.200M14.9 244.7h-1.200M14.9 253.7h-1.200M14.9 262.8h-1.200M14.9 271.9h-1.200M20.9 271.9v1.200M24.5 271.9v1.200M36.9 271.9v1.200M47.4 271.9v1.200M57.4 271.9v1.200" stroke="#888" stroke-width="0.500"/>
<text class="tk" x="20.9" y="276.5" text-anchor="middle">0</text><text class="tk" x="24.5" y="276.5" text-anchor="middle">10²</text><text class="tk" x="36.9" y="276.5" text-anchor="middle">10³</text><text class="tk" x="47.4" y="276.5" text-anchor="middle">10⁴</text><text class="tk" x="57.4" y="276.5" text-anchor="middle">10⁵</text>
<text class="tk" x="13.4" y="227.5" text-anchor="end">100</text><text class="tk" x="13.4" y="236.6" text-anchor="end">80</text><text class="tk" x="13.4" y="245.7" text-anchor="end">60</text><text class="tk" x="13.4" y="254.7" text-anchor="end">40</text><text class="tk" x="13.4" y="263.8" text-anchor="end">20</text><text class="tk" x="13.4" y="272.9" text-anchor="end">0</text>
<rect x="72.6" y="224.0" width="48.0" height="47.9" fill="none" stroke="#aaa" stroke-width="0.600"/><path d="M72.1 271.9H120.6" stroke="#333" stroke-width="1"/><path d="M72.6 224.0V271.9" stroke="#999" stroke-width="0.700"/><path d="M72.6 226.5h-1.200M72.6 235.6h-1.200M72.6 244.7h-1.200M72.6 253.7h-1.200M72.6 262.8h-1.200M72.6 271.9h-1.200M78.6 271.9v1.200M82.2 271.9v1.200M94.6 271.9v1.200M105.1 271.9v1.200M115.1 271.9v1.200" stroke="#888" stroke-width="0.500"/>
<text class="tk" x="78.6" y="276.5" text-anchor="middle">0</text><text class="tk" x="82.2" y="276.5" text-anchor="middle">10²</text><text class="tk" x="94.6" y="276.5" text-anchor="middle">10³</text><text class="tk" x="105.1" y="276.5" text-anchor="middle">10⁴</text><text class="tk" x="115.1" y="276.5" text-anchor="middle">10⁵</text>
<text class="tk" x="71.1" y="227.5" text-anchor="end">100</text><text class="tk" x="71.1" y="236.6" text-anchor="end">80</text><text class="tk" x="71.1" y="245.7" text-anchor="end">60</text><text class="tk" x="71.1" y="254.7" text-anchor="end">40</text><text class="tk" x="71.1" y="263.8" text-anchor="end">20</text><text class="tk" x="71.1" y="272.9" text-anchor="end">0</text>
<rect x="129.4" y="224.0" width="48.0" height="47.9" fill="none" stroke="#aaa" stroke-width="0.600"/><path d="M128.9 271.9H177.4" stroke="#333" stroke-width="1"/><path d="M129.4 224.0V271.9" stroke="#999" stroke-width="0.700"/><path d="M129.4 226.5h-1.200M129.4 235.6h-1.200M129.4 244.7h-1.200M129.4 253.7h-1.200M129.4 262.8h-1.200M129.4 271.9h-1.200M135.4 271.9v1.200M139.0 271.9v1.200M151.4 271.9v1.200M161.9 271.9v1.200M171.9 271.9v1.200" stroke="#888" stroke-width="0.500"/>
<text class="tk" x="135.4" y="276.5" text-anchor="middle">0</text><text class="tk" x="139.0" y="276.5" text-anchor="middle">10²</text><text class="tk" x="151.4" y="276.5" text-anchor="middle">10³</text><text class="tk" x="161.9" y="276.5" text-anchor="middle">10⁴</text><text class="tk" x="171.9" y="276.5" text-anchor="middle">10⁵</text>
<text class="tk" x="127.9" y="227.5" text-anchor="end">100</text><text class="tk" x="127.9" y="236.6" text-anchor="end">80</text><text class="tk" x="127.9" y="245.7" text-anchor="end">60</text><text class="tk" x="127.9" y="254.7" text-anchor="end">40</text><text class="tk" x="127.9" y="263.8" text-anchor="end">20</text><text class="tk" x="127.9" y="272.9" text-anchor="end">0</text>
<rect x="187.1" y="224.0" width="48.0" height="47.9" fill="none" stroke="#aaa" stroke-width="0.600"/><path d="M186.6 271.9H235.1" stroke="#333" stroke-width="1"/><path d="M187.1 224.0V271.9" stroke="#999" stroke-width="0.700"/><path d="M187.1 226.5h-1.200M187.1 235.6h-1.200M187.1 244.7h-1.200M187.1 253.7h-1.200M187.1 262.8h-1.200M187.1 271.9h-1.200M193.1 271.9v1.200M196.7 271.9v1.200M209.1 271.9v1.200M219.6 271.9v1.200M229.6 271.9v1.200" stroke="#888" stroke-width="0.500"/>
<text class="tk" x="193.1" y="276.5" text-anchor="middle">0</text><text class="tk" x="196.7" y="276.5" text-anchor="middle">10²</text><text class="tk" x="209.1" y="276.5" text-anchor="middle">10³</text><text class="tk" x="219.6" y="276.5" text-anchor="middle">10⁴</text><text class="tk" x="229.6" y="276.5" text-anchor="middle">10⁵</text>
<text class="tk" x="185.6" y="227.5" text-anchor="end">100</text><text class="tk" x="185.6" y="236.6" text-anchor="end">80</text><text class="tk" x="185.6" y="245.7" text-anchor="end">60</text><text class="tk" x="185.6" y="254.7" text-anchor="end">40</text><text class="tk" x="185.6" y="263.8" text-anchor="end">20</text><text class="tk" x="185.6" y="272.9" text-anchor="end">0</text>
<rect x="360.3" y="224.0" width="48.0" height="47.9" fill="none" stroke="#aaa" stroke-width="0.600"/><path d="M359.8 271.9H408.3" stroke="#333" stroke-width="1"/><path d="M360.3 224.0V271.9" stroke="#999" stroke-width="0.700"/><path d="M360.3 226.5h-1.200M360.3 235.6h-1.200M360.3 244.7h-1.200M360.3 253.7h-1.200M360.3 262.8h-1.200M360.3 271.9h-1.200M366.3 271.9v1.200M369.9 271.9v1.200M382.3 271.9v1.200M392.8 271.9v1.200M402.8 271.9v1.200" stroke="#888" stroke-width="0.500"/>
<text class="tk" x="366.3" y="276.5" text-anchor="middle">0</text><text class="tk" x="369.9" y="276.5" text-anchor="middle">10²</text><text class="tk" x="382.3" y="276.5" text-anchor="middle">10³</text><text class="tk" x="392.8" y="276.5" text-anchor="middle">10⁴</text><text class="tk" x="402.8" y="276.5" text-anchor="middle">10⁵</text>
<text class="tk" x="358.8" y="227.5" text-anchor="end">100</text><text class="tk" x="358.8" y="236.6" text-anchor="end">80</text><text class="tk" x="358.8" y="245.7" text-anchor="end">60</text><text class="tk" x="358.8" y="254.7" text-anchor="end">40</text><text class="tk" x="358.8" y="263.8" text-anchor="end">20</text><text class="tk" x="358.8" y="272.9" text-anchor="end">0</text>
<path d="M30.0 271.0L30.4 271.0L30.8 270.9L31.2 270.9L31.6 270.8L32.0 270.8L32.4 270.7L32.8 270.6L33.2 270.6L33.6 270.5L34.0 270.5L34.4 270.4L34.8 270.4L35.2 270.3L35.6 270.3L36.0 270.2L36.4 270.1L36.8 270.1L37.2 270.0L37.6 270.0L38.0 269.9L38.4 269.9L38.8 269.8L39.2 269.8L39.6 269.7L40.0 269.7L40.4 269.6L40.8 269.6L41.2 269.5L41.6 269.4L42.0 269.3L42.4 269.2L42.8 269.1L43.2 268.9L43.6 268.4L44.0 267.4L44.4 266.1L44.8 264.6L45.2 263.1L45.6 261.6L46.0 260.2L46.4 258.6L46.8 256.9L47.2 255.0L47.6 252.9L48.0 250.3L48.4 246.6L48.8 242.3L49.2 238.0L49.6 233.2L50.0 228.8L50.4 227.5L50.8 229.6L51.2 233.0L51.6 238.4L52.0 244.1L52.4 249.6L52.8 254.8L53.2 259.2L53.6 262.5L54.0 265.5L54.4 268.2L54.8 270.0L55.2 270.7L55.6 270.9L56.0 271.1L56.4 271.2L56.8 271.3L56.8 271.5L30.0 271.5Z" fill="#6c6c6c" stroke="#6c6c6c" stroke-width="0.3" stroke-linejoin="round"/>
<path d="M16.0 271.3L16.4 271.3L16.8 271.3L17.2 271.3L17.6 271.3L18.0 271.3L18.4 271.3L18.8 271.3L19.2 271.3L19.6 271.3L20.0 271.3L20.4 271.2L20.8 271.2L21.2 271.2L21.6 271.2L22.0 271.2L22.4 271.2L22.8 271.2L23.2 271.2L23.6 271.1L24.0 271.1L24.4 271.1L24.8 271.1L25.2 271.1L25.6 271.1L26.0 271.0L26.4 271.0L26.8 271.0L27.2 271.0L27.6 270.9L28.0 270.9L28.4 270.9L28.8 270.9L29.2 270.9L29.6 270.8L30.0 270.8L30.4 270.8L30.8 270.7L31.2 270.7L31.6 270.7L32.0 270.6L32.4 270.6L32.8 270.5L33.2 270.5L33.6 270.4L34.0 270.3L34.4 270.2L34.8 270.1L35.2 270.0L35.6 269.9L36.0 269.7L36.4 269.5L36.8 269.1L37.2 268.4L37.6 267.3L38.0 266.0L38.4 264.5L38.8 262.8L39.2 260.9L39.6 258.1L40.0 254.1L40.4 249.3L40.8 244.6L41.2 240.4L41.6 236.2L42.0 232.4L42.4 229.8L42.8 227.8L43.2 227.2L43.6 227.6L44.0 228.4L44.4 229.2L44.8 230.5L45.2 232.1L45.6 234.0L46.0 236.5L46.4 239.5L46.8 242.5L47.2 245.6L47.6 248.7L48.0 251.9L48.4 255.6L48.8 259.6L49.2 263.2L49.6 266.2L50.0 267.9L50.4 269.2L50.8 270.2L51.2 270.8L51.6 271.0L52.0 271.0L52.4 271.1L52.8 271.1L53.2 271.1L53.6 271.2L54.0 271.2L54.4 271.2L54.8 271.2L55.2 271.2L55.6 271.2L56.0 271.3L56.4 271.3L56.8 271.3L57.2 271.3L57.6 271.3L58.0 271.3L58.4 271.3L58.8 271.3L59.2 271.3L59.6 271.3L60.0 271.3" fill="none" stroke="#6e6e6e" stroke-width="0.7" stroke-linejoin="round"/>
<path d="M16.0 271.3L16.4 271.3L16.8 271.3L17.2 271.3L17.6 271.3L18.0 271.3L18.4 271.3L18.8 271.3L19.2 271.3L19.6 271.3L20.0 271.3L20.4 271.2L20.8 271.2L21.2 271.2L21.6 271.2L22.0 271.2L22.4 271.2L22.8 271.2L23.2 271.2L23.6 271.1L24.0 271.1L24.4 271.1L24.8 271.1L25.2 271.1L25.6 271.0L26.0 271.0L26.4 271.0L26.8 271.0L27.2 271.0L27.6 270.9L28.0 270.9L28.4 270.9L28.8 270.9L29.2 270.8L29.6 270.8L30.0 270.8L30.4 270.8L30.8 270.7L31.2 270.7L31.6 270.7L32.0 270.7L32.4 270.6L32.8 270.6L33.2 270.5L33.6 270.5L34.0 270.4L34.4 270.3L34.8 270.3L35.2 270.2L35.6 270.1L36.0 270.0L36.4 269.9L36.8 269.8L37.2 269.6L37.6 269.4L38.0 268.7L38.4 267.6L38.8 266.1L39.2 264.4L39.6 262.4L40.0 260.1L40.4 257.6L40.8 255.0L41.2 252.2L41.6 247.6L42.0 241.9L42.4 236.5L42.8 233.0L43.2 230.3L43.6 228.1L44.0 227.0L44.4 227.4L44.8 228.7L45.2 228.8L45.6 227.6L46.0 226.9L46.4 228.0L46.8 230.4L47.2 233.5L47.6 238.1L48.0 242.4L48.4 246.7L48.8 251.1L49.2 255.2L49.6 258.8L50.0 261.5L50.4 264.0L50.8 266.2L51.2 268.0L51.6 269.2L52.0 269.8L52.4 270.3L52.8 270.7L53.2 270.9L53.6 271.1L54.0 271.2L54.4 271.2L54.8 271.2L55.2 271.2L55.6 271.3L56.0 271.3L56.4 271.3L56.8 271.3L57.2 271.3L57.6 271.3L58.0 271.3L58.4 271.3L58.8 271.3L59.2 271.3L59.6 271.3L60.0 271.3" fill="none" stroke="#111" stroke-width="1.0" stroke-linejoin="round"/>
<path d="M72.9 245.8L73.3 247.0L73.7 247.6L74.1 248.1L74.5 247.9L74.9 248.8L75.3 247.7L75.7 248.4L76.1 248.1L76.5 248.3L76.9 247.8L77.3 248.8L77.7 248.3L78.1 248.2L78.5 247.4L78.9 247.6L79.3 246.8L79.7 246.6L80.1 245.8L80.5 245.1L80.9 245.0L81.3 243.6L81.7 242.9L82.1 242.0L82.5 240.7L82.9 240.1L83.3 238.5L83.7 237.6L84.1 235.8L84.5 233.9L84.9 232.9L85.3 231.4L85.7 230.6L86.1 229.7L86.5 228.7L86.9 227.7L87.3 227.8L87.7 227.1L88.1 226.5L88.5 227.2L88.9 228.0L89.3 229.9L89.7 232.4L90.1 234.5L90.5 238.2L90.9 242.0L91.3 245.7L91.7 248.9L92.1 252.6L92.5 255.4L92.9 258.0L93.3 259.9L93.7 261.4L94.1 262.5L94.5 263.4L94.9 264.2L95.3 264.8L95.7 265.3L96.1 265.8L96.5 266.2L96.9 266.7L97.3 266.9L97.7 267.3L98.1 267.6L98.5 267.8L98.9 268.1L99.3 268.3L99.7 268.5L100.1 268.6L100.5 268.9L100.9 269.1L101.3 269.3L101.7 269.5L102.1 269.6L102.5 269.9L102.9 270.1L103.3 270.4L103.7 270.6L104.1 270.8L104.5 270.9L104.9 271.0L105.3 271.0L105.7 271.1L106.1 271.1L106.5 271.2L106.9 271.2L107.3 271.2L107.7 271.2L108.1 271.3L108.5 271.3L108.9 271.3L109.3 271.3L109.7 271.3L109.7 271.5L72.9 271.5Z" fill="#6c6c6c" stroke="#6c6c6c" stroke-width="0.3" stroke-linejoin="round"/>
<path d="M72.9 245.7L73.3 247.1L73.7 247.6L74.1 248.2L74.5 247.8L74.9 249.0L75.3 247.6L75.7 248.5L76.1 248.1L76.5 248.3L76.9 247.7L77.3 248.9L77.7 248.3L78.1 248.2L78.5 247.4L78.9 247.7L79.3 246.9L79.7 246.6L80.1 245.8L80.5 245.0L80.9 245.1L81.3 243.5L81.7 242.8L82.1 242.0L82.5 240.7L82.9 240.1L83.3 238.5L83.7 237.6L84.1 235.8L84.5 233.8L84.9 233.0L85.3 231.5L85.7 230.6L86.1 229.8L86.5 228.8L86.9 227.7L87.3 228.0L87.7 227.1L88.1 226.2L88.5 227.1L88.9 228.1L89.3 230.0L89.7 232.5L90.1 234.3L90.5 238.2L90.9 242.1L91.3 245.7L91.7 248.8L92.1 252.6L92.5 255.3L92.9 257.9L93.3 260.0L93.7 261.4L94.1 262.5L94.5 263.4L94.9 264.1L95.3 264.8L95.7 265.3L96.1 265.8L96.5 266.2L96.9 266.7L97.3 266.9L97.7 267.3L98.1 267.6L98.5 267.8L98.9 268.1L99.3 268.3L99.7 268.5L100.1 268.6L100.5 269.0L100.9 269.1L101.3 269.3L101.7 269.4L102.1 269.6L102.5 269.9L102.9 270.2L103.3 270.4L103.7 270.6L104.1 270.8L104.5 270.9L104.9 271.0L105.3 271.0L105.7 271.1L106.1 271.1L106.5 271.2L106.9 271.2L107.3 271.2L107.7 271.2L108.1 271.3L108.5 271.3L108.9 271.3L109.3 271.3L109.7 271.3" fill="none" stroke="#111" stroke-width="1.1" stroke-linejoin="round"/>
<path d="M73.0 271.2L73.4 271.2L73.8 271.1L74.2 271.1L74.6 271.0L75.0 270.9L75.4 270.9L75.8 270.8L76.2 270.7L76.6 270.6L77.0 270.6L77.4 270.5L77.8 270.4L78.2 270.3L78.6 270.1L79.0 270.0L79.4 269.9L79.8 269.8L80.2 269.6L80.6 269.5L81.0 269.3L81.4 269.1L81.8 269.0L82.2 268.8L82.6 268.6L83.0 268.4L83.4 268.2L83.8 267.9L84.2 267.7L84.6 267.4L85.0 267.1L85.4 266.8L85.8 266.4L86.2 266.1L86.6 265.7L87.0 265.3L87.4 264.9L87.8 264.5L88.2 264.0L88.6 263.6L89.0 263.1L89.4 262.5L89.8 261.9L90.2 261.2L90.6 260.4L91.0 259.6L91.4 258.6L91.8 257.5L92.2 256.1L92.6 254.4L93.0 252.6L93.4 250.6L93.8 247.9L94.2 244.8L94.6 241.6L95.0 238.7L95.4 236.4L95.8 234.3L96.2 232.3L96.6 230.6L97.0 229.3L97.4 228.4L97.8 227.6L98.2 227.0L98.6 226.9L99.0 227.4L99.4 228.3L99.8 229.6L100.2 231.2L100.6 234.2L101.0 238.5L101.4 243.1L101.8 247.5L102.2 252.4L102.6 257.1L103.0 260.9L103.4 263.9L103.8 266.7L104.2 268.7L104.6 269.8L105.0 270.3L105.4 270.8L105.8 271.0L106.2 271.0L106.6 271.1L107.0 271.1L107.4 271.1L107.8 271.2L108.2 271.2L108.6 271.2L109.0 271.2L109.4 271.3L109.8 271.3L110.2 271.3L110.6 271.3L111.0 271.3L111.4 271.3L111.8 271.3" fill="none" stroke="#6e6e6e" stroke-width="0.7" stroke-linejoin="round"/>
<path d="M129.8 262.3L130.2 262.3L130.6 262.4L131.0 261.9L131.4 262.1L131.8 261.8L132.2 261.4L132.6 261.4L133.0 261.1L133.4 260.9L133.8 260.4L134.2 259.9L134.6 259.8L135.0 259.6L135.4 258.9L135.8 258.5L136.2 257.9L136.6 257.2L137.0 256.9L137.4 256.1L137.8 255.5L138.2 254.6L138.6 253.7L139.0 253.0L139.4 252.0L139.8 251.1L140.2 250.2L140.6 249.3L141.0 248.2L141.4 246.7L141.8 245.4L142.2 243.0L142.6 242.6L143.0 239.9L143.4 238.0L143.8 235.9L144.2 234.6L144.6 233.4L145.0 231.6L145.4 230.0L145.8 229.3L146.2 227.8L146.6 228.1L147.0 226.2L147.4 226.9L147.8 229.0L148.2 230.3L148.6 232.5L149.0 235.5L149.4 238.5L149.8 241.9L150.2 246.1L150.6 250.8L151.0 256.2L151.4 261.1L151.8 264.5L152.2 267.6L152.6 269.6L153.0 270.1L153.4 270.4L153.8 270.6L154.2 270.7L154.6 270.8L155.0 270.9L155.4 271.0L155.8 271.0L156.2 271.0L156.6 271.0L157.0 270.9L157.4 270.9L157.8 270.8L158.2 270.8L158.6 270.7L159.0 270.6L159.4 270.4L159.8 270.0L160.2 269.7L160.6 269.3L161.0 269.2L161.4 269.4L161.8 269.6L162.2 270.0L162.6 270.4L163.0 270.6L163.4 270.7L163.8 270.9L164.2 271.0L164.6 271.1L165.0 271.2L165.4 271.3L165.8 271.3L165.8 271.5L129.8 271.5Z" fill="#6c6c6c" stroke="#6c6c6c" stroke-width="0.3" stroke-linejoin="round"/>
<path d="M129.8 262.3L130.2 262.3L130.6 262.4L131.0 261.9L131.4 262.1L131.8 261.8L132.2 261.4L132.6 261.4L133.0 261.2L133.4 260.9L133.8 260.4L134.2 259.9L134.6 259.8L135.0 259.6L135.4 258.9L135.8 258.5L136.2 257.9L136.6 257.1L137.0 256.9L137.4 256.1L137.8 255.5L138.2 254.6L138.6 253.7L139.0 253.1L139.4 252.0L139.8 251.1L140.2 250.2L140.6 249.3L141.0 248.3L141.4 246.7L141.8 245.4L142.2 242.9L142.6 242.7L143.0 239.9L143.4 238.0L143.8 235.8L144.2 234.5L144.6 233.5L145.0 231.6L145.4 230.0L145.8 229.3L146.2 227.7L146.6 228.3L147.0 226.1L147.4 226.8L147.8 229.0L148.2 230.3L148.6 232.5L149.0 235.6L149.4 238.5L149.8 241.8L150.2 246.1L150.6 250.8L151.0 256.2L151.4 261.1L151.8 264.5L152.2 267.6L152.6 269.6L153.0 270.1L153.4 270.4L153.8 270.6L154.2 270.7L154.6 270.8L155.0 270.9L155.4 271.0L155.8 271.0L156.2 271.0L156.6 271.0L157.0 270.9L157.4 270.9L157.8 270.8L158.2 270.8L158.6 270.7L159.0 270.6L159.4 270.4L159.8 270.0L160.2 269.7L160.6 269.3L161.0 269.2L161.4 269.4L161.8 269.6L162.2 270.0L162.6 270.4L163.0 270.6L163.4 270.7L163.8 270.9L164.2 271.0L164.6 271.1L165.0 271.2L165.4 271.3L165.8 271.3" fill="none" stroke="#111" stroke-width="1.05" stroke-linejoin="round"/>
<path d="M129.6 226.3L130.0 226.4L130.4 226.6L130.8 226.9L131.2 227.2L131.6 227.6L132.0 228.2L132.4 228.6L132.8 228.8L133.2 228.7L133.6 228.4L134.0 228.2L134.4 228.3L134.8 229.1L135.2 230.1L135.6 230.7L136.0 230.7L136.4 230.5L136.8 230.2L137.2 229.8L137.6 229.5L138.0 229.1L138.4 228.6L138.8 228.0L139.2 227.6L139.6 227.4L140.0 227.5L140.4 227.9L140.8 228.4L141.2 228.8L141.6 229.2L142.0 229.8L142.4 230.3L142.8 230.6L143.2 230.7L143.6 230.5L144.0 230.2L144.4 229.9L144.8 229.4L145.2 228.7L145.6 228.0L146.0 227.5L146.4 227.2L146.8 226.9L147.2 227.0L147.6 227.7L148.0 228.8L148.4 230.2L148.8 232.2L149.2 235.0L149.6 238.4L150.0 242.2L150.4 246.5L150.8 252.9L151.2 259.9L151.6 264.7L152.0 267.4L152.4 269.4L152.8 270.2" fill="none" stroke="#222" stroke-width="0.7" stroke-linejoin="round"/>
<path d="M200.0 271.3L200.4 271.3L200.8 271.3L201.2 271.3L201.6 271.2L202.0 271.2L202.4 271.1L202.8 271.1L203.2 271.0L203.6 270.9L204.0 270.8L204.4 270.7L204.8 270.6L205.2 270.4L205.6 270.3L206.0 270.2L206.4 270.0L206.8 269.8L207.2 269.6L207.6 269.4L208.0 268.8L208.4 268.1L208.8 267.0L209.2 265.8L209.6 264.3L210.0 262.7L210.4 261.0L210.8 259.0L211.2 257.0L211.6 254.0L212.0 249.7L212.4 244.8L212.8 240.2L213.2 236.7L213.6 233.3L214.0 230.2L214.4 228.0L214.8 227.4L215.2 228.0L215.6 229.1L216.0 230.7L216.4 232.6L216.8 235.2L217.2 239.8L217.6 245.5L218.0 251.0L218.4 256.4L218.8 262.1L219.2 266.4L219.6 268.3L220.0 269.6L220.4 270.6L220.8 271.1L220.8 271.5L200.0 271.5Z" fill="#6c6c6c" stroke="#6c6c6c" stroke-width="0.3" stroke-linejoin="round"/>
<path d="M187.9 264.7L188.3 264.6L188.7 264.5L189.1 264.3L189.5 264.1L189.9 263.9L190.3 263.7L190.7 263.5L191.1 263.2L191.5 263.0L191.9 262.7L192.3 262.5L192.7 262.2L193.1 261.8L193.5 261.5L193.9 261.1L194.3 260.7L194.7 260.2L195.1 259.7L195.5 259.2L195.9 258.6L196.3 257.8L196.7 256.8L197.1 255.8L197.5 254.6L197.9 253.3L198.3 252.1L198.7 250.8L199.1 249.4L199.5 247.8L199.9 246.2L200.3 244.6L200.7 242.8L201.1 241.2L201.5 239.5L201.9 237.8L202.3 235.9L202.7 234.1L203.1 232.6L203.5 231.5L203.9 230.5L204.3 229.6L204.7 228.9L205.1 228.4L205.5 228.2L205.9 228.0L206.3 227.9L206.7 227.8L207.1 227.8L207.5 227.9L207.9 228.3L208.3 228.9L208.7 229.6L209.1 230.1L209.5 230.3L209.9 230.4L210.3 230.6L210.7 230.7L211.1 230.7L211.5 230.5L211.9 229.9L212.3 229.1L212.7 228.3L213.1 227.8L213.5 227.5L213.9 227.2L214.3 227.0L214.7 226.9L215.1 227.2L215.5 228.1L215.9 229.4L216.3 231.7L216.7 236.1L217.1 241.4L217.5 246.6L217.9 252.5L218.3 258.9L218.7 264.2L219.1 267.2L219.5 269.1L219.9 270.4L220.3 270.7L220.7 270.9L221.1 271.0L221.5 271.1L221.9 271.2L222.3 271.3L222.7 271.3" fill="none" stroke="#222" stroke-width="0.7" stroke-linejoin="round"/>
<path d="M188.0 271.3L188.4 271.3L188.8 271.3L189.2 271.3L189.6 271.3L190.0 271.3L190.4 271.3L190.8 271.3L191.2 271.3L191.6 271.2L192.0 271.2L192.4 271.2L192.8 271.2L193.2 271.2L193.6 271.2L194.0 271.2L194.4 271.2L194.8 271.1L195.2 271.1L195.6 271.1L196.0 271.1L196.4 271.1L196.8 271.1L197.2 271.0L197.6 271.0L198.0 271.0L198.4 271.0L198.8 271.0L199.2 270.9L199.6 270.9L200.0 270.9L200.4 270.9L200.8 270.9L201.2 270.8L201.6 270.8L202.0 270.8L202.4 270.7L202.8 270.7L203.2 270.6L203.6 270.6L204.0 270.5L204.4 270.3L204.8 270.1L205.2 269.9L205.6 269.6L206.0 269.3L206.4 268.9L206.8 268.5L207.2 268.1L207.6 267.6L208.0 267.1L208.4 266.6L208.8 265.8L209.2 264.7L209.6 263.4L210.0 261.8L210.4 259.8L210.8 256.5L211.2 252.3L211.6 247.8L212.0 243.4L212.4 239.4L212.8 235.2L213.2 231.5L213.6 229.4L214.0 228.1L214.4 227.1L214.8 227.0L215.2 228.3L215.6 230.7L216.0 233.6L216.4 237.8L216.8 242.8L217.2 248.0L217.6 254.2L218.0 260.5L218.4 265.3L218.8 267.6L219.2 269.2L219.6 270.3L220.0 270.8L220.4 270.9L220.8 270.9L221.2 271.0L221.6 271.1L222.0 271.1L222.4 271.2L222.8 271.2L223.2 271.2L223.6 271.2L224.0 271.3L224.4 271.3L224.8 271.3L225.2 271.3L225.6 271.3L226.0 271.3" fill="none" stroke="#111" stroke-width="1.05" stroke-linejoin="round"/>
<path d="M237.400 231.900H246.500" stroke="#111" stroke-width="1.300"/>
<path d="M237.400 241.400H246.500" stroke="#888" stroke-width="0.700"/>
<rect x="237.400" y="251" width="9.100" height="3.800" fill="#6c6c6c"/>
<g ><text class="t" x="250.10" y="234.00" textLength="14.80" lengthAdjust="spacingAndGlyphs">CD4</text><text class="s" x="265.10" y="235.80" textLength="12.50" lengthAdjust="spacingAndGlyphs">PERI</text><text class="t" x="278.10" y="234.00" textLength="14.30" lengthAdjust="spacingAndGlyphs">GFP</text><text class="p" x="293.15" y="230.25" style="font-size:6.60px">+</text></g>
<g ><text class="t" x="250.10" y="244.00" textLength="14.80" lengthAdjust="spacingAndGlyphs">CD4</text><text class="s" x="265.10" y="245.80" textLength="10.00" lengthAdjust="spacingAndGlyphs">SPT</text><text class="t" x="275.60" y="244.00" textLength="14.30" lengthAdjust="spacingAndGlyphs">GFP</text><text class="p" x="290.65" y="240.25" style="font-size:6.60px">+</text></g>
<text class="t" x="250.100" y="254.600" textLength="43.300" lengthAdjust="spacingAndGlyphs">Tinted = CD4</text>
<text class="s" x="294" y="256.400" textLength="10" lengthAdjust="spacingAndGlyphs">peri</text>
<text class="t" x="304.500" y="254.600" textLength="15" lengthAdjust="spacingAndGlyphs">GFP</text>
<text class="p" x="320.2" y="251.6" style="font-size:7.5px">-</text>
<path d="M364.0 271.3L364.4 271.3L364.8 271.1L365.2 270.9L365.6 270.7L366.0 269.7L366.4 266.6L366.8 262.2L367.2 257.2L367.6 252.2L368.0 247.1L368.4 240.6L368.8 234.0L369.2 228.9L369.6 226.9L370.0 227.8L370.4 230.3L370.8 233.7L371.2 237.6L371.6 241.4L372.0 245.9L372.4 251.6L372.8 257.3L373.2 262.2L373.6 265.3L374.0 267.6L374.4 269.4L374.8 270.5L375.2 270.8L375.6 271.1L376.0 271.2L376.4 271.3L376.4 271.5L364.0 271.5Z" fill="#6c6c6c" stroke="#6c6c6c" stroke-width="0.3" stroke-linejoin="round"/>
<path d="M385.0 271.0L385.4 270.5L385.8 269.2L386.2 267.2L386.6 264.7L387.0 262.0L387.4 257.8L387.8 251.8L388.2 245.4L388.6 240.0L389.0 235.2L389.4 230.9L389.8 229.0L390.2 230.2L390.6 233.0L391.0 238.2L391.4 245.0L391.8 252.2L392.2 259.3L392.6 264.2L393.0 268.0L393.4 270.6" fill="none" stroke="#9a9a9a" stroke-width="0.6" stroke-linejoin="round"/>
<path d="M361.0 271.3L361.4 271.3L361.8 271.3L362.2 271.3L362.6 271.3L363.0 271.3L363.4 271.3L363.8 271.3L364.2 271.3L364.6 271.3L365.0 271.3L365.4 271.2L365.8 271.2L366.2 271.2L366.6 271.2L367.0 271.2L367.4 271.2L367.8 271.2L368.2 271.2L368.6 271.1L369.0 271.1L369.4 271.1L369.8 271.1L370.2 271.1L370.6 271.1L371.0 271.0L371.4 271.0L371.8 271.0L372.2 271.0L372.6 271.0L373.0 270.9L373.4 270.9L373.8 270.9L374.2 270.9L374.6 270.8L375.0 270.7L375.4 270.6L375.8 268.3L376.2 262.7L376.6 259.5L377.0 258.7L377.4 257.8L377.8 256.7L378.2 255.5L378.6 254.1L379.0 251.6L379.4 249.6L379.8 247.7L380.2 246.1L380.6 243.7L381.0 239.8L381.4 238.4L381.8 237.6L382.2 234.9L382.6 233.1L383.0 229.2L383.4 229.1L383.8 224.9L384.2 226.5L384.6 227.4L385.0 228.4L385.4 227.1L385.8 229.3L386.2 231.4L386.6 231.7L387.0 234.9L387.4 236.9L387.8 242.4L388.2 249.4L388.6 252.0L389.0 259.5L389.4 264.5L389.8 267.9L390.2 270.2L390.6 270.8L391.0 271.0L391.4 271.2L391.8 271.3" fill="none" stroke="#222" stroke-width="0.6" stroke-linejoin="round"/>
<path d="M361.0 271.3L361.4 271.3L361.8 271.3L362.2 271.3L362.6 271.3L363.0 271.3L363.4 271.3L363.8 271.3L364.2 271.3L364.6 271.3L365.0 271.3L365.4 271.3L365.8 271.3L366.2 271.3L366.6 271.3L367.0 271.3L367.4 271.3L367.8 271.3L368.2 271.3L368.6 271.3L369.0 271.3L369.4 271.3L369.8 271.3L370.2 271.3L370.6 271.3L371.0 271.3L371.4 271.3L371.8 271.3L372.2 271.2L372.6 271.2L373.0 271.2L373.4 271.2L373.8 271.2L374.2 271.2L374.6 271.2L375.0 271.2L375.4 271.2L375.8 271.2L376.2 271.2L376.6 271.2L377.0 271.2L377.4 271.1L377.8 271.1L378.2 271.1L378.6 271.1L379.0 271.0L379.4 271.0L379.8 270.9L380.2 270.8L380.6 270.8L381.0 270.7L381.4 270.6L381.8 270.2L382.2 269.6L382.6 268.8L383.0 267.7L383.4 266.5L383.8 265.2L384.2 263.8L384.6 262.0L385.0 259.5L385.4 256.6L385.8 253.5L386.2 250.3L386.6 246.4L387.0 242.1L387.4 238.1L387.8 234.9L388.2 232.1L388.6 229.6L389.0 228.0L389.4 227.4L389.8 227.0L390.2 227.0L390.6 227.8L391.0 229.1L391.4 230.8L391.8 233.0L392.2 236.9L392.6 241.8L393.0 246.4L393.4 251.2L393.8 256.1L394.2 260.1L394.6 263.1L395.0 265.8L395.4 268.0L395.8 269.4L396.2 270.0L396.6 270.4L397.0 270.8L397.4 271.0L397.8 271.2L398.2 271.2L398.6 271.2L399.0 271.2L399.4 271.2L399.8 271.2L400.2 271.2L400.6 271.3L401.0 271.3L401.4 271.3L401.8 271.3L402.2 271.3L402.6 271.3L403.0 271.3L403.4 271.3L403.8 271.3L404.2 271.3L404.6 271.3L405.0 271.3L405.4 271.3L405.8 271.3L406.2 271.3L406.6 271.3L407.0 271.3" fill="none" stroke="#000" stroke-width="1.25" stroke-linejoin="round"/>
<path d="M414.300 232.700H423.100" stroke="#222" stroke-width="0.700"/>
<path d="M414.300 243.100H423.100" stroke="#000" stroke-width="1.500"/>
<path d="M414.300 252.600H423.100" stroke="#999" stroke-width="0.800"/>
<rect x="414.300" y="259.200" width="8.800" height="4" fill="#6c6c6c"/>
<g ><text class="t" x="431.10" y="234.50" textLength="14.80" lengthAdjust="spacingAndGlyphs">CD4</text><text class="s" x="446.10" y="236.30" textLength="12.50" lengthAdjust="spacingAndGlyphs">PERI</text><text class="t" x="459.10" y="234.50" textLength="14.30" lengthAdjust="spacingAndGlyphs">GFP</text><text class="p" x="474.15" y="230.75" style="font-size:6.60px">+</text></g>
<g ><text class="t" x="431.10" y="244.90" textLength="14.80" lengthAdjust="spacingAndGlyphs">CD4</text><text class="s" x="446.10" y="246.70" textLength="10.50" lengthAdjust="spacingAndGlyphs">SPT</text><text class="t" x="457.10" y="244.90" textLength="14.30" lengthAdjust="spacingAndGlyphs">GFP</text><text class="p" x="472.15" y="241.15" style="font-size:6.60px">+</text></g>
<text class="t" x="431.100" y="254.200" textLength="71.700" lengthAdjust="spacingAndGlyphs">Total GFP in Thymus</text>
<text class="t" x="431.100" y="263.700" textLength="54" lengthAdjust="spacingAndGlyphs">Total GFP in LN</text>
</svg></body></html>
